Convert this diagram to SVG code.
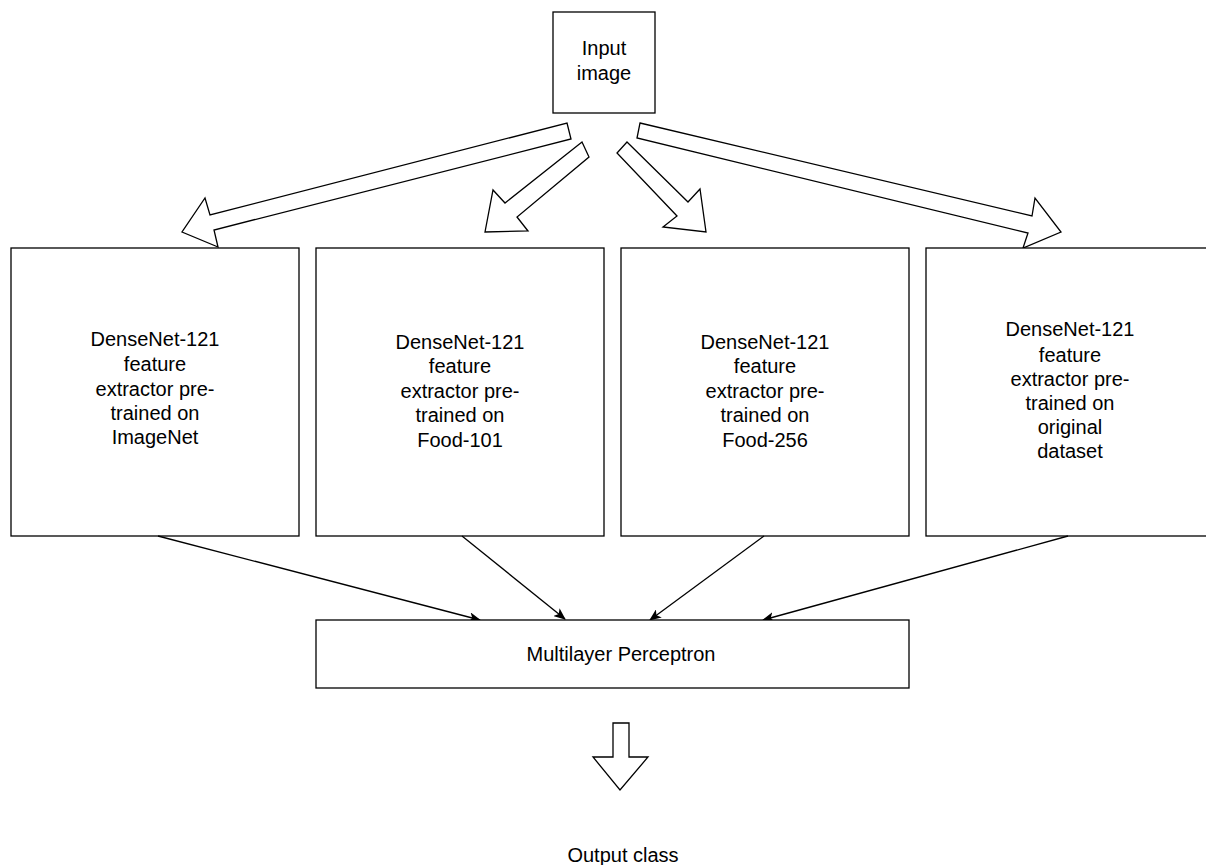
<svg xmlns="http://www.w3.org/2000/svg" width="1206" height="865" viewBox="0 0 1206 865">
<defs>
<style>
.box{fill:#fff;stroke:#000;stroke-width:1.3}
.blk{fill:#fff;stroke:#000;stroke-width:1.3;stroke-linejoin:miter}
.t{font-family:"Liberation Sans",Arial,sans-serif;font-size:20px;fill:#000;text-anchor:middle}
.ln{stroke:#000;stroke-width:1.3;fill:none}
</style>
<marker id="ah" viewBox="0 0 12 10" refX="11" refY="5" markerWidth="12" markerHeight="10" markerUnits="userSpaceOnUse" orient="auto">
<path d="M0,0 L12,5 L0,10 L3,5 z" fill="#000"/>
</marker>
</defs>
<rect width="1206" height="865" fill="#fff"/>
<g id="input">
<rect class="box" x="553" y="12" width="102" height="101"/>
<text class="t" x="604" y="55">Input</text>
<text class="t" x="604" y="80">image</text>
</g>
<g id="block-arrows">
<polygon class="blk" points="567,123 571,139 214,230 218,247 182,232 205,198 210,215"/>
<polygon class="blk" points="582,142 589,157 517,217 528,231 485,232 493,190 505,203"/>
<polygon class="blk" points="627,142 688,202 700,189 706,232 663,227 677,216 617,153"/>
<polygon class="blk" points="640,123 1032,216 1035,198 1061,232 1023,248 1028,233 637,138"/>
</g>
<g id="dn-imagenet">
<rect class="box" x="11" y="248" width="288" height="288"/>
<text class="t" x="155" y="346">DenseNet-121</text>
<text class="t" x="155" y="371">feature</text>
<text class="t" x="155" y="396">extractor pre-</text>
<text class="t" x="155" y="420">trained on</text>
<text class="t" x="155" y="444">ImageNet</text>
</g>
<g id="dn-food101">
<rect class="box" x="316" y="248" width="288" height="288"/>
<text class="t" x="460" y="349">DenseNet-121</text>
<text class="t" x="460" y="373">feature</text>
<text class="t" x="460" y="398">extractor pre-</text>
<text class="t" x="460" y="422">trained on</text>
<text class="t" x="460" y="447">Food-101</text>
</g>
<g id="dn-food256">
<rect class="box" x="621" y="248" width="288" height="288"/>
<text class="t" x="765" y="349">DenseNet-121</text>
<text class="t" x="765" y="373">feature</text>
<text class="t" x="765" y="398">extractor pre-</text>
<text class="t" x="765" y="422">trained on</text>
<text class="t" x="765" y="447">Food-256</text>
</g>
<g id="dn-original">
<rect class="box" x="926" y="248" width="288" height="288"/>
<text class="t" x="1070" y="336">DenseNet-121</text>
<text class="t" x="1070" y="362">feature</text>
<text class="t" x="1070" y="386">extractor pre-</text>
<text class="t" x="1070" y="410">trained on</text>
<text class="t" x="1070" y="434">original</text>
<text class="t" x="1070" y="458">dataset</text>
</g>
<g id="connectors">
<line class="ln" x1="158" y1="536" x2="480" y2="620" marker-end="url(#ah)"/>
<line class="ln" x1="462" y1="536" x2="565" y2="619" marker-end="url(#ah)"/>
<line class="ln" x1="764" y1="536" x2="650" y2="620" marker-end="url(#ah)"/>
<line class="ln" x1="1068" y1="536" x2="763" y2="620" marker-end="url(#ah)"/>
</g>
<g id="mlp">
<rect class="box" x="316" y="620" width="593" height="68"/>
<text class="t" x="621" y="661">Multilayer Perceptron</text>
</g>
<g id="out-arrow">
<polygon class="blk" points="613,723 629,723 629,757 648,757 620,790 593,757 613,757"/>
</g>
<g id="output">
<text class="t" x="623" y="862">Output class</text>
</g>
</svg>
